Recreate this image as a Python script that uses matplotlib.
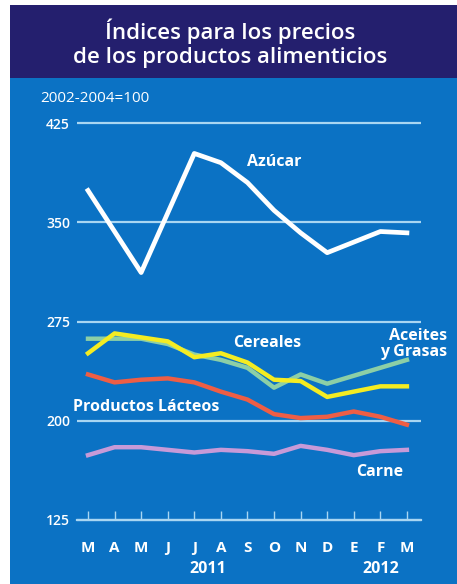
import matplotlib
matplotlib.use("Agg")
import matplotlib.pyplot as plt
from matplotlib.patches import Rectangle

# monthly index values, Mar 2011 .. Mar 2012 (2002-2004=100)
months = ["M", "A", "M", "J", "J", "A", "S", "O", "N", "D", "E", "F", "M"]
azucar = [374, 343, 312, 357, 402, 395, 380, 359, 342, 327, 335, 343, 342]
aceites = [262, 262, 262, 258, 250, 246, 240, 225, 235, 228, 234, 240, 246]
cereales = [251, 266, 263, 260, 248, 251, 244, 231, 230, 218, 222, 226, 226]
lacteos = [235, 229, 231, 232, 229, 222, 216, 205, 202, 203, 207, 203, 197]
carne = [174, 180, 180, 178, 176, 178, 177, 175, 181, 178, 174, 177, 178]
yticks = [125, 200, 275, 350, 425]

NAVY = "#241f6e"
BLUE = "#0b72c4"
GRID = "#a9d6f2"
FONT = "Open Sans"

W, H = 457, 584
fig = plt.figure(figsize=(W / 100, H / 100), dpi=100)
fig.patch.set_facecolor("white")

# background panels (title band + chart body)
fig.patches.append(Rectangle((10 / W, 1 - 78 / H), 1, 73 / H, transform=fig.transFigure,
                             facecolor=NAVY, edgecolor="none", zorder=0))
fig.patches.append(Rectangle((10 / W, 0), 1, 1 - 78 / H, transform=fig.transFigure,
                             facecolor=BLUE, edgecolor="none", zorder=0))

fig.text(230 / W, 1 - 31 / H, "Índices para los precios", color="white", ha="center",
         va="center", fontsize=16, fontfamily=FONT, fontweight="semibold")
fig.text(230 / W, 1 - 58 / H, "de los productos alimenticios", color="white", ha="center",
         va="center", fontsize=16, fontfamily=FONT, fontweight="semibold")
fig.text(40 / W, 1 - 98 / H, "2002-2004=100", color="white", ha="left", va="center",
         fontsize=11, fontfamily=FONT)

ax = fig.add_axes([77 / W, 1 - 526.6 / H, 344 / W, 410.2 / H])
ax.set_zorder(2)
ax.set_facecolor("none")
x = list(range(len(months)))

# spine first: set_position resets the tick objects
for side in ("left", "right", "top"):
    ax.spines[side].set_visible(False)
ax.spines["bottom"].set_position(("data", 125))
ax.spines["bottom"].set_color(GRID)
ax.spines["bottom"].set_linewidth(1.6)

ax.plot(x, azucar, color="white", lw=3.4, solid_joinstyle="round", zorder=5)
ax.plot(x, aceites, color="#8ccfa6", lw=3.2, solid_joinstyle="round", zorder=4)
ax.plot(x, cereales, color="#f4ec22", lw=3.2, solid_joinstyle="round", zorder=5)
ax.plot(x, lacteos, color="#ee5e45", lw=3.2, solid_joinstyle="round", zorder=4)
ax.plot(x, carne, color="#c79ad8", lw=3.2, solid_joinstyle="round", zorder=4)

ax.set_xlim(-0.414, 12.53)
ax.set_ylim(120, 430)

ax.yaxis.grid(True, color=GRID, lw=1.6)
ax.set_axisbelow(True)
ax.tick_params(axis="y", length=0, pad=5, labelcolor="white", labelsize=10)
ax.tick_params(axis="x", direction="in", length=6.5, width=1.0, color=GRID, pad=15,
               labelcolor="white", labelsize=11)

ax.set_yticks(yticks)
ax.set_yticklabels([str(v) for v in yticks], fontfamily=FONT, fontweight="semibold")
ax.set_xticks(x)
ax.set_xticklabels(months, fontfamily=FONT, fontweight="bold")

lab_kw = dict(color="white", fontsize=11.5, fontfamily=FONT, fontweight="bold", va="center")
ax.text(6.99, 395.5, "Azúcar", ha="center", **lab_kw)
ax.text(6.73, 258.8, "Cereales", ha="center", **lab_kw)
ax.text(13.53, 258, "Aceites\ny Grasas", ha="right", multialignment="right",
        linespacing=0.95, clip_on=False, **lab_kw)
ax.text(-0.56, 210.5, "Productos Lácteos", ha="left", clip_on=False, **lab_kw)
ax.text(10.98, 161.4, "Carne", ha="center", **lab_kw)

ax.text(4.5, 88, "2011", ha="center", clip_on=False, **lab_kw)
ax.text(11.0, 88, "2012", ha="center", clip_on=False, **lab_kw)

fig.savefig("out.png", dpi=100, facecolor=fig.get_facecolor())
